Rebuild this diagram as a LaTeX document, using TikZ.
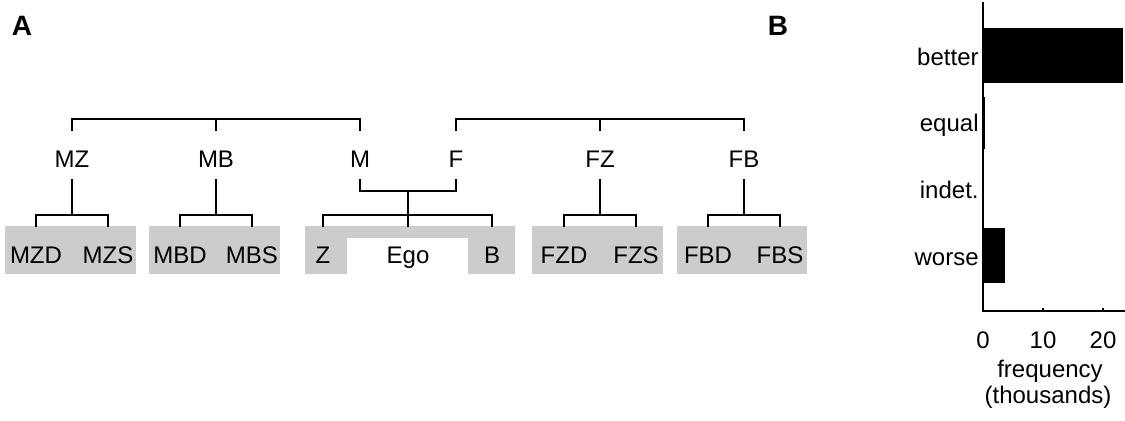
\documentclass[tikz,border=0pt]{standalone}
\usepackage{fontspec}
\setmainfont{Liberation Sans}

\begin{document}
\begin{tikzpicture}[x=0.5pt, y=-0.5pt,
    lbl/.style={anchor=base, inner sep=0pt, font=\fontsize{12}{14}\selectfont},
    panel/.style={anchor=base, inner sep=0pt, font=\fontsize{14}{16}\selectfont\bfseries},
    kin/.style={line width=0.6pt},
    desc/.style={line width=1.1pt},
    sibbox/.style={fill=black!20},
    bar/.style={fill=black}]
    \useasboundingbox (0,0) rectangle (1125,420);

    \node[panel] (panelA) at (22,35) {A};
    \node[panel] (panelB) at (778,35) {B};

    % gray sibling sets
    \fill[sibbox] (5,226) rectangle (136,274);
    \fill[sibbox] (149,226) rectangle (280,274);
    \fill[sibbox] (305,226) -- (515,226) -- (515,274) -- (468,274) -- (468,238)
        -- (347,238) -- (347,274) -- (305,274) -- cycle;
    \fill[sibbox] (532,226) rectangle (663,274);
    \fill[sibbox] (677,226) rectangle (807,274);

    % parents' generation
    \node[lbl] (MZ) at (72,167) {MZ};
    \node[lbl] (MB) at (216,167) {MB};
    \node[lbl] (M) at (360,167) {M};
    \node[lbl] (F) at (456,167) {F};
    \node[lbl] (FZ) at (600,167) {FZ};
    \node[lbl] (FB) at (744,167) {FB};

    % ego's generation
    \node[lbl] (MZD) at (36,263) {MZD};
    \node[lbl] (MZS) at (108,263) {MZS};
    \node[lbl] (MBD) at (180,263) {MBD};
    \node[lbl] (MBS) at (252,263) {MBS};
    \node[lbl] (Z) at (323,263) {Z};
    \node[lbl] (Ego) at (408,263) {Ego};
    \node[lbl] (B) at (492,263) {B};
    \node[lbl] (FZD) at (564,263) {FZD};
    \node[lbl] (FZS) at (636,263) {FZS};
    \node[lbl] (FBD) at (708,263) {FBD};
    \node[lbl] (FBS) at (780,263) {FBS};

    % levels of the brackets
    \coordinate (sib) at (0,119);
    \coordinate (sibtk) at (0,131);
    \coordinate (par) at (0,179);
    \coordinate (mar) at (0,191);
    \coordinate (kids) at (0,215);
    \coordinate (kidtk) at (0,227);

    \draw[kin] (MZ |- sibtk) -- (MZ |- sib) -- (M |- sib) -- (M |- sibtk);
    \draw[kin] (MB |- sibtk) -- (MB |- sib);
    \draw[kin] (F |- sibtk) -- (F |- sib) -- (FB |- sib) -- (FB |- sibtk);
    \draw[kin] (FZ |- sibtk) -- (FZ |- sib);

    \draw[desc] (MZ |- par) -- (MZ |- kids);
    \draw[desc] (MB |- par) -- (MB |- kids);
    \draw[desc] (FZ |- par) -- (FZ |- kids);
    \draw[desc] (FB |- par) -- (FB |- kids);
    \draw[kin] (M |- par) -- (M |- mar) -- (F |- mar) -- (F |- par);
    \draw[kin] (Ego |- mar) -- (Ego |- kidtk);

    \draw[kin] (MZD |- kidtk) -- (MZD |- kids) -- (MZS |- kids) -- (MZS |- kidtk);
    \draw[kin] (MBD |- kidtk) -- (MBD |- kids) -- (MBS |- kids) -- (MBS |- kidtk);
    \draw[kin] (Z |- kidtk) -- (Z |- kids) -- (B |- kids) -- (B |- kidtk);
    \draw[kin] (FZD |- kidtk) -- (FZD |- kids) -- (FZS |- kids) -- (FZS |- kidtk);
    \draw[kin] (FBD |- kidtk) -- (FBD |- kids) -- (FBS |- kids) -- (FBS |- kidtk);

    % panel B
    \node[lbl, anchor=base east] (better) at (979,65) {better};
    \node[lbl, anchor=base east] (equal) at (979,131.8) {equal};
    \node[lbl, anchor=base east] (indet) at (979,198.6) {indet.};
    \node[lbl, anchor=base east] (worse) at (979,265.4) {worse};

    \begin{scope}[shift={(983,0)}, x=3pt]
        \fill[bar] (0,28) rectangle (23.3,83);
        \fill[bar] (0,97) rectangle (0.3,149);
        \fill[bar] (0,163) rectangle (0.2,217);
        \fill[bar] (0,228.4) rectangle (3.7,283.4);
        \draw[kin] (0,2) -- (0,311) -- (23.67,311);
        \foreach \t in {0,10,20} {
            \draw[kin] (\t,311) -- (\t,308);
            \node[lbl] (tick\t) at (\t,348) {\t};
        }
    \end{scope}
    \node[lbl] (freq) at (1050,377) {frequency};
    \node[lbl] (thou) at (1048,403) {(thousands)};
\end{tikzpicture}
\end{document}
